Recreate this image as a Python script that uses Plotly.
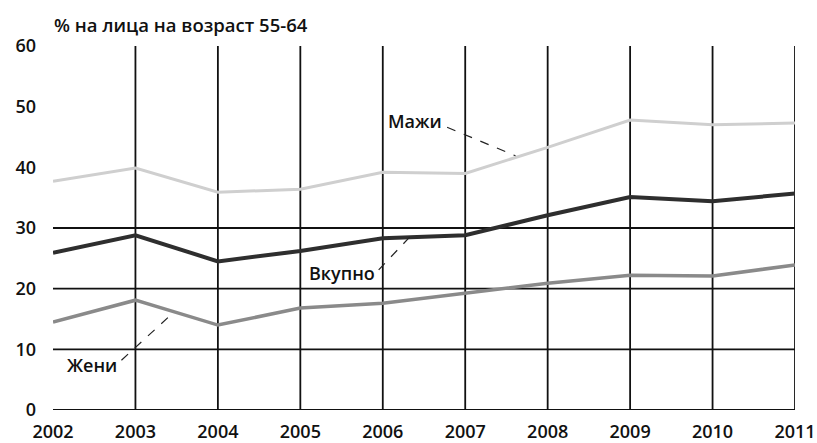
import plotly.graph_objects as go

years = [2002, 2003, 2004, 2005, 2006, 2007, 2008, 2009, 2010, 2011]
mazhi = [37.7, 39.9, 35.9, 36.4, 39.2, 39.0, 43.3, 47.8, 47.0, 47.3]
vkupno = [25.9, 28.8, 24.5, 26.2, 28.3, 28.8, 32.1, 35.1, 34.4, 35.7]
zheni = [14.5, 18.1, 14.0, 16.8, 17.6, 19.3, 20.9, 22.2, 22.1, 23.9]

y_ticks = [0, 10, 20, 30, 40, 50, 60]
h_grid = [0, 10, 20, 30]
v_grid = [2003, 2004, 2005, 2006, 2007, 2008, 2009, 2010, 2011]

title_text = "% на лица на возраст 55-64"
label_names = ["Мажи", "Вкупно", "Жени"]

FONT = "Open Sans"

fig = go.Figure()
fig.add_trace(go.Scatter(x=years, y=mazhi, mode="lines", name="Мажи",
                         line=dict(color="#cfcfcf", width=3)))
fig.add_trace(go.Scatter(x=years, y=vkupno, mode="lines", name="Вкупно",
                         line=dict(color="#2e2e2e", width=4)))
fig.add_trace(go.Scatter(x=years, y=zheni, mode="lines", name="Жени",
                         line=dict(color="#8a8a8a", width=3.5)))

shapes = []
for yv in h_grid:
    shapes.append(dict(type="line", xref="x", yref="y", x0=years[0], x1=years[-1],
                       y0=yv, y1=yv, line=dict(color="#111", width=1.8), layer="below"))
for xv in v_grid:
    shapes.append(dict(type="line", xref="x", yref="y", x0=xv, x1=xv,
                       y0=0, y1=60, line=dict(color="#111", width=1.8), layer="below"))

# dashed leader lines
leaders = [
    ((2006.78, 46.6), (2007.61, 41.9)),
    ((2005.95, 23.1), (2006.34, 28.7)),
    ((2002.83, 8.2), (2003.44, 15.8)),
]
for (x0, y0), (x1, y1) in leaders:
    shapes.append(dict(type="line", xref="x", yref="y", x0=x0, y0=y0, x1=x1, y1=y1,
                       line=dict(color="#222", width=1.2, dash="dash")))

label_pos = [(2006.39, 47.6), (2005.51, 22.6), (2002.47, 7.4)]
annotations = []
for name, (xv, yv) in zip(label_names, label_pos):
    annotations.append(dict(x=xv, y=yv, xref="x", yref="y", text=name, showarrow=False,
                            font=dict(family=FONT, size=18, color="#111", weight=600),
                            bgcolor="white", borderpad=0))
annotations.append(dict(x=-0.002, y=1.018, xref="paper", yref="paper", text=title_text,
                        showarrow=False, xanchor="left", yanchor="bottom",
                        font=dict(family=FONT, size=18.5, color="#111", weight=600)))

fig.update_layout(
    width=817, height=443,
    margin=dict(l=53, r=22, t=46, b=33),
    paper_bgcolor="white", plot_bgcolor="white",
    showlegend=False,
    shapes=shapes,
    annotations=annotations,
    xaxis=dict(range=[years[0], years[-1]], tickvals=years, ticktext=[str(y) for y in years],
               showgrid=False, zeroline=False, showline=False, ticks="", automargin=False,
               ticklabelstandoff=9,
               tickfont=dict(family=FONT, size=18, color="#111", weight=600)),
    yaxis=dict(range=[0, 60], tickvals=y_ticks, showgrid=False, zeroline=False,
               showline=False, ticks="", ticklabelstandoff=16, automargin=False,
               tickfont=dict(family=FONT, size=18, color="#111", weight=600)),
)

fig.write_html("out.html", config={"displayModeBar": False},
               post_script="document.body.style.margin='0';document.body.style.overflow='hidden';")
